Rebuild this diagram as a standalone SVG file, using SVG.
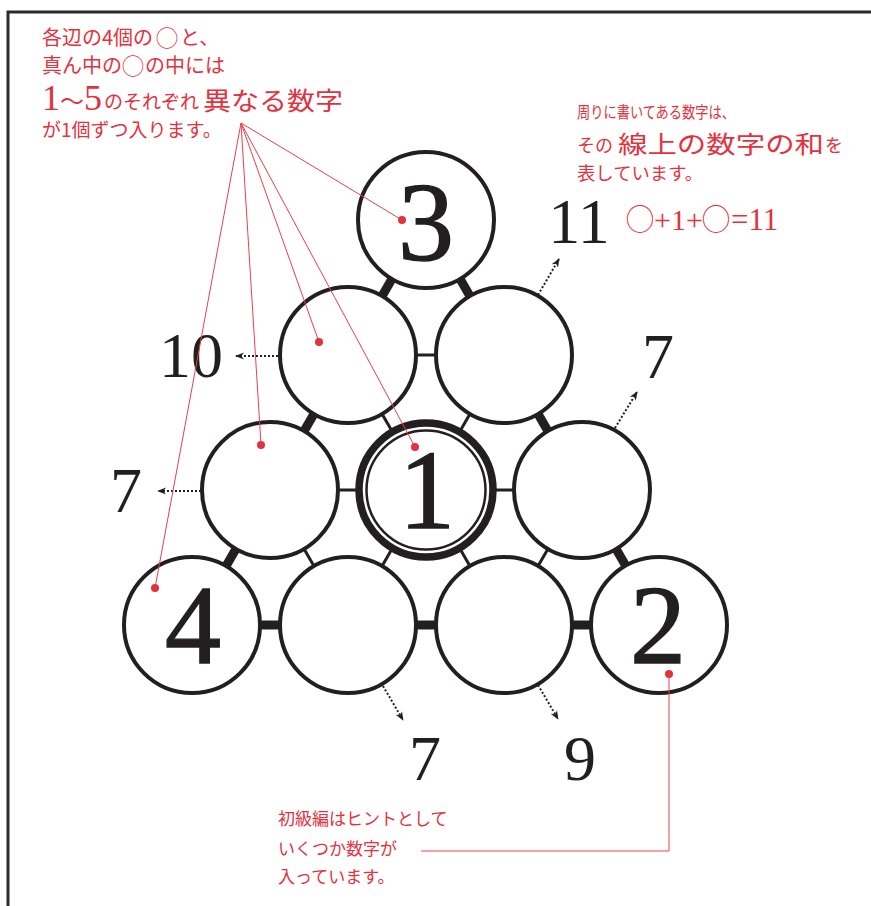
<svg xmlns="http://www.w3.org/2000/svg" width="871" height="906" viewBox="0 0 871 906">
<style>
.frame{fill:none;stroke:#2b2b2b;stroke-width:3}
.thick{stroke:#231f20;stroke-width:9}
.thin{stroke:#231f20;stroke-width:3}
.ring{fill:#fff;stroke:#231f20;stroke-width:4}
.big{font-family:"Liberation Serif","DejaVu Serif",serif;font-size:112px;fill:#231f20;text-anchor:middle;stroke:#231f20;stroke-width:1.4}
.num{font-family:"Liberation Serif","DejaVu Serif",serif;font-size:64px;fill:#231f20;text-anchor:middle}
.arrow{stroke:#231f20;stroke-width:2;stroke-dasharray:2 2;fill:none}
.jp{font-family:"Noto Sans CJK JP","Noto Sans",sans-serif;fill:#e3323e}
.ser{font-family:"Liberation Serif","Noto Sans CJK JP",serif;fill:#e3323e}
.lead{stroke:#e8414b;stroke-width:1;fill:none}
.dot{fill:#e3323e}
</style>
<defs>
<marker id="ah" viewBox="0 0 10 8" refX="9" refY="4" markerWidth="9" markerHeight="7.2" markerUnits="userSpaceOnUse" orient="auto">
<path d="M0,0 L10,4 L0,8 L3,4 z" fill="#231f20"/>
</marker>
</defs>
<rect width="871" height="906" fill="#fff"/>
<path class="frame" d="M8,906 V12 H871"/>

<g id="connectors">
<line class="thick" x1="426" y1="220" x2="348" y2="355"/>
<line class="thick" x1="426" y1="220" x2="504" y2="355"/>
<line class="thick" x1="348" y1="355" x2="270" y2="490"/>
<line class="thick" x1="270" y1="490" x2="192" y2="625"/>
<line class="thick" x1="504" y1="355" x2="582" y2="490"/>
<line class="thick" x1="582" y1="490" x2="660" y2="625"/>
<line class="thick" x1="192" y1="625" x2="348" y2="625"/>
<line class="thick" x1="348" y1="625" x2="504" y2="625"/>
<line class="thick" x1="504" y1="625" x2="660" y2="625"/>
<line class="thin" x1="348" y1="355" x2="504" y2="355"/>
<line class="thin" x1="348" y1="355" x2="426" y2="490"/>
<line class="thin" x1="504" y1="355" x2="426" y2="490"/>
<line class="thin" x1="270" y1="490" x2="426" y2="490"/>
<line class="thin" x1="426" y1="490" x2="582" y2="490"/>
<line class="thin" x1="270" y1="490" x2="348" y2="625"/>
<line class="thin" x1="426" y1="490" x2="348" y2="625"/>
<line class="thin" x1="426" y1="490" x2="504" y2="625"/>
<line class="thin" x1="582" y1="490" x2="504" y2="625"/>
</g>

<g id="nA"><circle class="ring" cx="426" cy="220" r="68"/><text class="big" x="426" y="260">3</text></g>
<g id="nB1"><circle class="ring" cx="348" cy="355" r="68"/></g>
<g id="nB2"><circle class="ring" cx="504" cy="355" r="68"/></g>
<g id="nC1"><circle class="ring" cx="270" cy="490" r="68"/></g>
<g id="nC2"><circle class="ring" cx="426" cy="490" r="67" style="stroke-width:7.5"/><circle cx="426" cy="490" r="59.5" fill="none" stroke="#231f20" stroke-width="2.5"/><text class="big" x="427" y="528">1</text></g>
<g id="nC3"><circle class="ring" cx="582" cy="490" r="68"/></g>
<g id="nD1"><circle class="ring" cx="192" cy="625" r="68"/><text class="big" x="193" y="663">4</text></g>
<g id="nD2"><circle class="ring" cx="348" cy="625" r="68"/></g>
<g id="nD3"><circle class="ring" cx="504" cy="625" r="68"/></g>
<g id="nD4"><circle class="ring" cx="659" cy="625" r="68"/><text class="big" x="658" y="663">2</text></g>

<g id="sums">
<line class="arrow" x1="278" y1="356" x2="236" y2="356" marker-end="url(#ah)"/>
<line class="arrow" x1="201" y1="491" x2="158" y2="491" marker-end="url(#ah)"/>
<line class="arrow" x1="538" y1="295" x2="559" y2="259" marker-end="url(#ah)"/>
<line class="arrow" x1="615" y1="428" x2="637" y2="392" marker-end="url(#ah)"/>
<line class="arrow" x1="383" y1="686" x2="403" y2="720" marker-end="url(#ah)"/>
<line class="arrow" x1="538" y1="685" x2="558" y2="719" marker-end="url(#ah)"/>
<text class="num" x="579" y="243">11</text>
<text class="num" x="191" y="377">10</text>
<text class="num" x="658" y="378">7</text>
<text class="num" x="126" y="512">7</text>
<text class="num" x="425" y="780">7</text>
<text class="num" x="580" y="780">9</text>
</g>

<g id="note1">
<text class="jp" x="42" y="45" font-size="20">各辺の4個の<tspan x="156" dy="1" font-size="22">◯</tspan><tspan x="180" dy="-1">と、</tspan></text>
<text class="jp" x="42" y="73" font-size="20">真ん中の<tspan x="122" dy="1" font-size="22">◯</tspan><tspan x="145" dy="-1">の中には</tspan></text>
<text x="42" y="110"><tspan class="ser" font-size="36">1</tspan><tspan class="jp" font-size="24">～</tspan><tspan class="ser" font-size="36">5</tspan></text>
<text class="jp" x="104" y="109" font-size="19">のそれぞれ</text>
<text class="jp" x="203" y="110" font-size="25" textLength="140" lengthAdjust="spacingAndGlyphs">異なる数字</text>
<text class="jp" x="42" y="137" font-size="19">が1個ずつ入ります。</text>
<path class="lead" d="M241,123 L402,220 M241,123 L319,342 M241,123 L261,445 M241,123 L415,447 M241,123 L155,588"/>
<circle class="dot" cx="402" cy="220" r="4"/>
<circle class="dot" cx="319" cy="342" r="4"/>
<circle class="dot" cx="261" cy="445" r="4"/>
<circle class="dot" cx="415" cy="447" r="4"/>
<circle class="dot" cx="155" cy="588" r="4"/>
</g>

<g id="note2">
<text class="jp" x="577" y="118" font-size="16" textLength="158" lengthAdjust="spacingAndGlyphs">周りに書いてある数字は、</text>
<text class="jp" x="577" y="152" font-size="18">その</text>
<text class="jp" x="618" y="153" font-size="24" textLength="206" lengthAdjust="spacingAndGlyphs">線上の数字の和</text>
<text class="jp" x="825" y="152" font-size="18">を</text>
<text class="jp" x="577" y="180" font-size="18" textLength="126" lengthAdjust="spacingAndGlyphs">表しています。</text>
<text class="ser" x="654" y="230" font-size="30"><tspan class="jp" x="626" font-size="28">◯</tspan><tspan x="654">+1+</tspan><tspan class="jp" x="702" font-size="28">◯</tspan><tspan x="731" font-size="31">=11</tspan></text>
</g>

<g id="note3">
<text class="jp" x="278" y="825" font-size="17">初級編はヒントとして</text>
<text class="jp" x="278" y="855" font-size="17">いくつか数字が</text>
<text class="jp" x="278" y="883" font-size="17">入っています。</text>
<path class="lead" d="M669,674 V851 H421"/>
<circle class="dot" cx="669" cy="674" r="4"/>
</g>
</svg>
